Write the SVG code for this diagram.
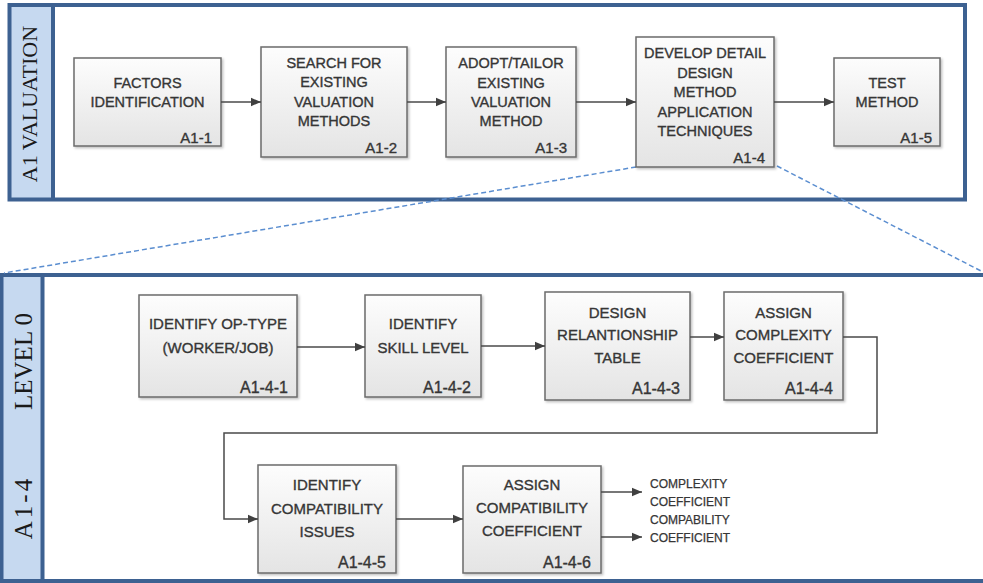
<svg xmlns="http://www.w3.org/2000/svg" width="983" height="583" viewBox="0 0 983 583">
  <defs>
    <linearGradient id="boxFill" x1="0" y1="0" x2="0" y2="1">
      <stop offset="0" stop-color="#fdfdfd"/>
      <stop offset="1" stop-color="#e4e4e4"/>
    </linearGradient>
    <filter id="shadow" x="-10%" y="-10%" width="120%" height="120%">
      <feDropShadow dx="1.5" dy="1.5" stdDeviation="1" flood-color="#000" flood-opacity="0.25"/>
    </filter>
    <marker id="arrow" viewBox="0 0 10 10" refX="10" refY="5" markerWidth="10" markerHeight="10" markerUnits="userSpaceOnUse" orient="auto">
      <path d="M0,0.8 L10,5 L0,9.2 z" fill="#404040"/>
    </marker>
    <style>
      .frame { fill: none; stroke: #3d6191; stroke-width: 4; }
      .band { fill: #c6d9f0; stroke: none; }
      .sep { stroke: #3d6191; stroke-width: 4; }
      .band-text { font-family: "Liberation Serif", "Times New Roman", serif; fill: #1a1a1a; }
      .box { fill: url(#boxFill); stroke: #6b6b6b; stroke-width: 1.5; filter: url(#shadow); }
      .t { font-family: "Liberation Sans", Arial, sans-serif; fill: #363636; stroke: #363636; stroke-width: 0.35; text-anchor: middle; }
      .t14 { font-size: 14.5px; }
      .t15 { font-size: 15px; }
      .id { font-family: "Liberation Sans", Arial, sans-serif; fill: #363636; stroke: #363636; stroke-width: 0.35; text-anchor: end; }
      .conn { fill: none; stroke: #4a4a4a; stroke-width: 1.5; }
      .arrowed { marker-end: url(#arrow); }
      .zoom { fill: none; stroke: #5b8ed0; stroke-width: 1.5; stroke-dasharray: 5 3; }
      .out { font-family: "Liberation Sans", Arial, sans-serif; font-size: 12px; fill: #363636; stroke: #363636; stroke-width: 0.25; }
    </style>
  </defs>

  <rect width="983" height="583" fill="#ffffff"/>

  <!-- Upper swimlane: A1 VALUATION -->
  <g id="lane-a1">
    <rect class="band" x="9.5" y="5" width="43.5" height="194.5"/>
    <rect class="frame" x="9.5" y="5" width="955.5" height="194.5"/>
    <line class="sep" x1="53" y1="5" x2="53" y2="199.5"/>
    <text class="band-text" font-size="22" text-anchor="middle" transform="rotate(-90)" x="-104" y="37">A1 VALUATION</text>
  </g>

  <!-- Lower swimlane: A1-4 LEVEL 0 -->
  <g id="lane-a14">
    <rect class="band" x="1.5" y="275" width="41" height="306"/>
    <rect class="frame" x="1.5" y="275" width="990" height="306"/>
    <line class="sep" x1="42.5" y1="275" x2="42.5" y2="581"/>
    <text class="band-text" font-size="25" text-anchor="middle" transform="rotate(-90)" x="-361.5" y="32">LEVEL 0</text>
    <text class="band-text" font-size="25" letter-spacing="3" text-anchor="middle" transform="rotate(-90)" x="-507.5" y="32">A1-4</text>
  </g>

  <!-- Decomposition guides from A1-4 to its detail lane -->
  <g id="zoom-guides">
    <line class="zoom" x1="636" y1="167" x2="4" y2="273"/>
    <line class="zoom" x1="777" y1="166" x2="983" y2="272"/>
  </g>

  <!-- Upper row nodes -->
  <g id="a1-1">
    <rect class="box" x="74" y="58" width="147" height="88"/>
    <text class="t t14" x="147.5" y="88">FACTORS</text>
    <text class="t t14" x="147.5" y="107">IDENTIFICATION</text>
    <text class="id" font-size="15" x="212" y="142.5">A1-1</text>
  </g>
  <g id="a1-2">
    <rect class="box" x="261" y="47" width="146" height="110"/>
    <text class="t t14" x="334" y="68">SEARCH FOR</text>
    <text class="t t14" x="334" y="87">EXISTING</text>
    <text class="t t14" x="334" y="107">VALUATION</text>
    <text class="t t14" x="334" y="126">METHODS</text>
    <text class="id" font-size="15" x="397" y="152.5">A1-2</text>
  </g>
  <g id="a1-3">
    <rect class="box" x="446" y="47" width="130" height="110"/>
    <text class="t t14" x="511" y="68">ADOPT/TAILOR</text>
    <text class="t t14" x="511" y="88">EXISTING</text>
    <text class="t t14" x="511" y="107">VALUATION</text>
    <text class="t t14" x="511" y="126">METHOD</text>
    <text class="id" font-size="15" x="567" y="152.5">A1-3</text>
  </g>
  <g id="a1-4">
    <rect class="box" x="636" y="37" width="138" height="130"/>
    <text class="t t14" x="705" y="58">DEVELOP DETAIL</text>
    <text class="t t14" x="705" y="78">DESIGN</text>
    <text class="t t14" x="705" y="97">METHOD</text>
    <text class="t t14" x="705" y="117">APPLICATION</text>
    <text class="t t14" x="705" y="136">TECHNIQUES</text>
    <text class="id" font-size="15" x="765" y="162.5">A1-4</text>
  </g>
  <g id="a1-5">
    <rect class="box" x="834" y="58" width="106" height="88"/>
    <text class="t t14" x="887" y="88">TEST</text>
    <text class="t t14" x="887" y="107">METHOD</text>
    <text class="id" font-size="15" x="932" y="142.5">A1-5</text>
  </g>

  <!-- Lower lane nodes -->
  <g id="a1-4-1">
    <rect class="box" x="139" y="295" width="158" height="102"/>
    <text class="t t15" x="218" y="328.5">IDENTIFY OP-TYPE</text>
    <text class="t t15" x="218" y="352.5">(WORKER/JOB)</text>
    <text class="id" font-size="16" x="288" y="393">A1-4-1</text>
  </g>
  <g id="a1-4-2">
    <rect class="box" x="365" y="295" width="116" height="102"/>
    <text class="t t15" x="423" y="328.5">IDENTIFY</text>
    <text class="t t15" x="423" y="352.5">SKILL LEVEL</text>
    <text class="id" font-size="16" x="471" y="393">A1-4-2</text>
  </g>
  <g id="a1-4-3">
    <rect class="box" x="545" y="292" width="145" height="108"/>
    <text class="t t15" x="617.5" y="317.5">DESIGN</text>
    <text class="t t15" x="617.5" y="339.5">RELANTIONSHIP</text>
    <text class="t t15" x="617.5" y="362.5">TABLE</text>
    <text class="id" font-size="16" x="680" y="394">A1-4-3</text>
  </g>
  <g id="a1-4-4">
    <rect class="box" x="724" y="292" width="119" height="108"/>
    <text class="t t15" x="783.5" y="317.5">ASSIGN</text>
    <text class="t t15" x="783.5" y="339.5">COMPLEXITY</text>
    <text class="t t15" x="783.5" y="362.5">COEFFICIENT</text>
    <text class="id" font-size="16" x="833" y="394">A1-4-4</text>
  </g>
  <g id="a1-4-5">
    <rect class="box" x="258" y="465" width="138" height="108"/>
    <text class="t t15" x="327" y="489.5">IDENTIFY</text>
    <text class="t t15" x="327" y="513.5">COMPATIBILITY</text>
    <text class="t t15" x="327" y="536.5">ISSUES</text>
    <text class="id" font-size="16" x="386" y="568">A1-4-5</text>
  </g>
  <g id="a1-4-6">
    <rect class="box" x="463" y="466" width="138" height="107"/>
    <text class="t t15" x="532" y="489.5">ASSIGN</text>
    <text class="t t15" x="532" y="512.5">COMPATIBILITY</text>
    <text class="t t15" x="532" y="535.5">COEFFICIENT</text>
    <text class="id" font-size="16" x="591" y="568">A1-4-6</text>
  </g>

  <!-- Outputs of A1-4-6 -->
  <g id="outputs">
    <text class="out" x="650" y="488">COMPLEXITY</text>
    <text class="out" x="650" y="506">COEFFICIENT</text>
    <text class="out" x="650" y="524">COMPABILITY</text>
    <text class="out" x="650" y="542">COEFFICIENT</text>
  </g>

  <!-- Connectors -->
  <g id="connectors">
    <line class="conn arrowed" x1="221" y1="102" x2="261" y2="102"/>
    <line class="conn arrowed" x1="407" y1="102" x2="446" y2="102"/>
    <line class="conn arrowed" x1="576" y1="102" x2="636" y2="102"/>
    <line class="conn arrowed" x1="774" y1="102" x2="834" y2="102"/>

    <line class="conn arrowed" x1="297" y1="347" x2="365" y2="347"/>
    <line class="conn arrowed" x1="481" y1="346" x2="545" y2="346"/>
    <line class="conn arrowed" x1="690" y1="337" x2="724" y2="337"/>
    <polyline class="conn arrowed" points="843,337 877,337 877,433 224,433 224,519 258,519"/>
    <line class="conn arrowed" x1="396" y1="519" x2="463" y2="519"/>
    <line class="conn arrowed" x1="601" y1="492" x2="642" y2="492"/>
    <line class="conn arrowed" x1="601" y1="537" x2="642" y2="537"/>
  </g>
</svg>
